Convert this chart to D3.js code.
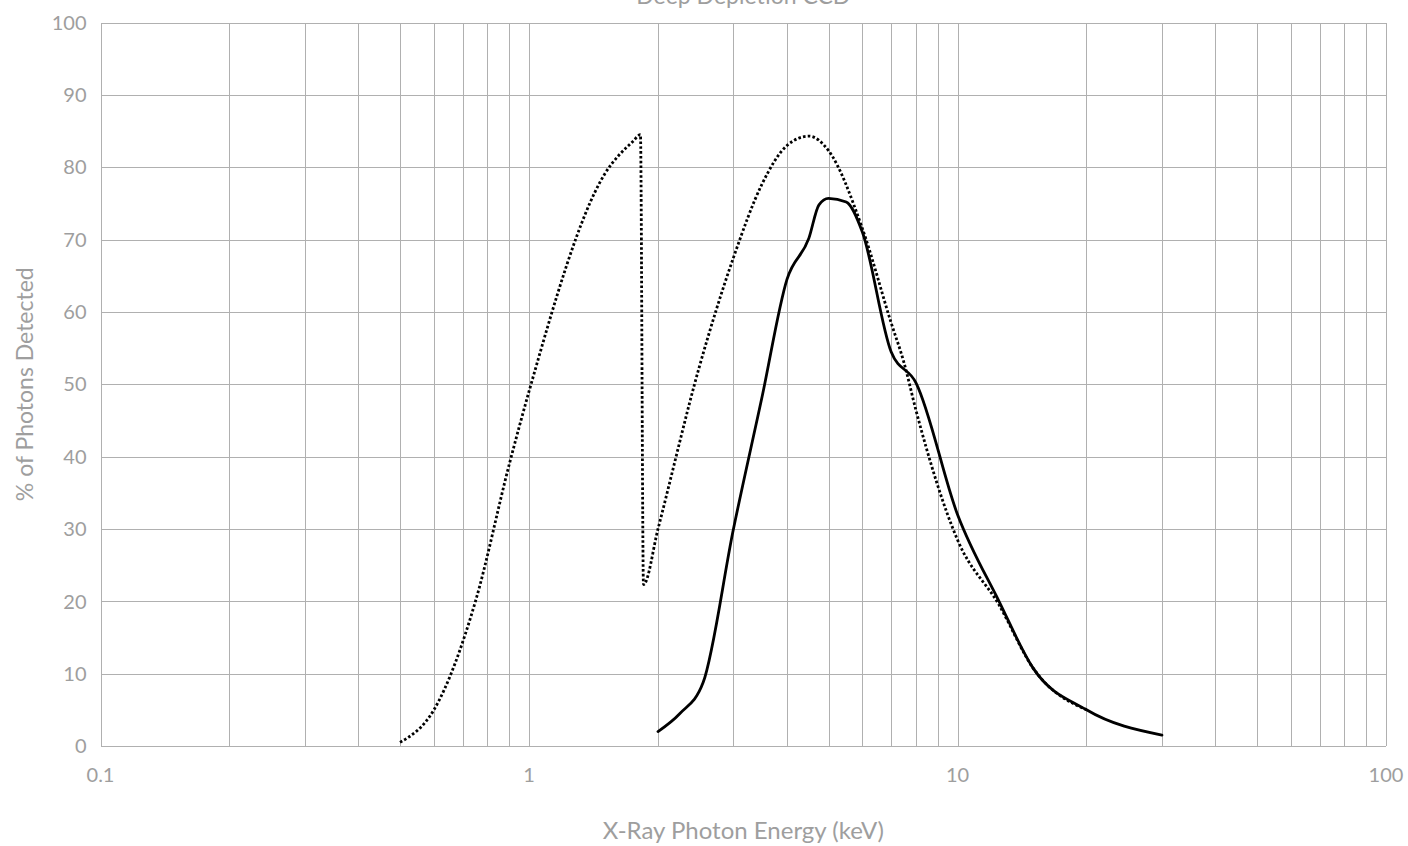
<!DOCTYPE html>
<html>
<head>
    <meta charset="utf-8"/>
    <style>
        body{
            margin: 0;
            background: #fff;
        }
        text{
            font-family: Lato, "Open Sans", sans-serif;
            fill: #9e9e9e;
        }
        .grid line{
            stroke: #b0b0b0;
            stroke-width: 1;
            shape-rendering: crispEdges;
        }
        .tick-label{
            font-size: 20px;
        }
        .axis-title{
            font-size: 23px;
        }
        .series{
            fill: none;
            stroke: #000;
        }
    </style>
</head>
<body>
<svg id="chart"></svg>

<script src="https://d3js.org/d3.v7.min.js"></script>
<script>
    // Energy (keV) and % detected
    const dottedEnergy = [0.5, 0.6, 0.75, 0.9, 1.0, 1.5, 1.75, 1.82, 1.85, 2.0, 2.5, 3.0, 3.5, 4.0, 4.5, 5.0, 6.0, 7.0, 7.5, 8.0, 10, 12.5, 15, 20];
    const dottedValues = [0.5, 5, 20, 39, 49, 79, 83.6, 84.5, 22.3, 30, 52.5, 67.5, 77.7, 83, 84.3, 82.3, 71.5, 58.5, 53, 46.4, 28.5, 19.5, 10.8, 5];

    const solidEnergy = [2.0, 2.25, 2.55, 3.0, 3.5, 4.0, 4.5, 4.75, 5.0, 5.5, 6.0, 7.0, 8.0, 10, 12.5, 15, 20, 30];
    const solidValues = [2, 4.5, 8.8, 30, 48.3, 64.5, 70.2, 74.8, 75.7, 75.2, 71, 54.5, 50.2, 32, 20, 10.8, 5, 1.5];

    const xTickValues = [0.1, 1, 10, 100];
    const xTickLabels = ['0.1', '1', '10', '100'];
    const yTickValues = [0, 10, 20, 30, 40, 50, 60, 70, 80, 90, 100];

    const width = 1408, height = 846;
    const plotLeft = 100.5, plotRight = 1386, plotTop = 22.5, plotBottom = 746;

    const svg = d3.select('#chart')
        .attr('width', width)
        .attr('height', height);

    const x = d3.scaleLog().domain([0.1, 100]).range([plotLeft, plotRight]);
    const y = d3.scaleLinear().domain([0, 100]).range([plotBottom, plotTop]);

    // vertical grid: every 1..9 of each decade
    const minor = [];
    [0.1, 1, 10].forEach(function(d){
        for (let i = 1; i < 10; i++) minor.push(d * i);
    });
    minor.push(100);

    const grid = svg.append('g').attr('class', 'grid');
    grid.selectAll('.vline')
        .data(minor)
        .enter().append('line')
        .attr('x1', d => Math.round(x(d)) + 0.5)
        .attr('x2', d => Math.round(x(d)) + 0.5)
        .attr('y1', y(100))
        .attr('y2', y(0));
    grid.selectAll('.hline')
        .data(yTickValues)
        .enter().append('line')
        .attr('x1', plotLeft)
        .attr('x2', plotRight)
        .attr('y1', d => Math.round(y(d)) + 0.5)
        .attr('y2', d => Math.round(y(d)) + 0.5);

    // tick labels
    svg.append('g').selectAll('text')
        .data(yTickValues)
        .enter().append('text')
        .attr('class', 'tick-label')
        .attr('x', plotLeft - 14)
        .attr('y', d => y(d))
        .attr('dy', '0.36em')
        .attr('text-anchor', 'end')
        .text(d => d);

    svg.append('g').selectAll('text')
        .data(xTickValues)
        .enter().append('text')
        .attr('class', 'tick-label')
        .attr('x', d => x(d))
        .attr('y', 782)
        .attr('text-anchor', 'middle')
        .text((d, i) => xTickLabels[i]);

    // titles
    svg.append('text')
        .attr('class', 'axis-title')
        .style('font-size', '24px')
        .attr('x', (plotLeft + plotRight) / 2)
        .attr('y', 839)
        .attr('text-anchor', 'middle')
        .text('X-Ray Photon Energy (keV)');

    svg.append('text')
        .attr('class', 'axis-title')
        .attr('transform', 'translate(33,' + (plotTop + plotBottom) / 2 + ') rotate(-90)')
        .attr('text-anchor', 'middle')
        .text('% of Photons Detected');

    svg.append('text')
        .attr('class', 'axis-title')
        .attr('x', (plotLeft + plotRight) / 2)
        .attr('y', 4)
        .attr('text-anchor', 'middle')
        .text('Deep Depletion CCD');

    // curves
    const line = d3.line()
        .x(d => x(d[0]))
        .y(d => y(d[1]))
        .curve(d3.curveMonotoneX);

    svg.append('path')
        .datum(d3.zip(dottedEnergy, dottedValues))
        .attr('class', 'series')
        .attr('stroke-width', 2.8)
        .attr('stroke-dasharray', '2.6,2.2')
        .attr('d', line);

    svg.append('path')
        .datum(d3.zip(solidEnergy, solidValues))
        .attr('class', 'series')
        .attr('stroke-width', 2.8)
        .attr('stroke-linecap', 'round')
        .attr('d', line);
</script>
</body>
</html>
